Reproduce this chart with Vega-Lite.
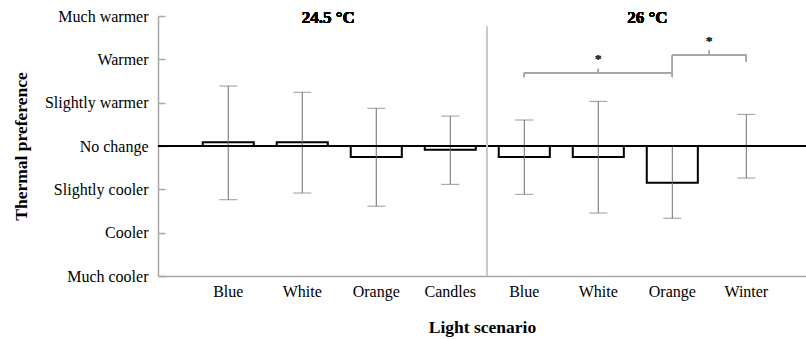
{
  "$schema": "https://vega.github.io/schema/vega-lite/v6.json",
  "width": 648,
  "height": 260,
  "autosize": {"type": "none"},
  "padding": {"left": 158, "top": 16, "right": 0, "bottom": 63},
  "config": {
    "font": "Liberation Serif",
    "view": {"stroke": null},
    "axis": {"grid": false}
  },
  "data": {
    "values": [
      {"key": "24.5|Blue", "mean": 0.085, "hi": 1.385, "lo": -1.24},
      {"key": "24.5|White", "mean": 0.085, "hi": 1.24, "lo": -1.085},
      {"key": "24.5|Orange", "mean": -0.254, "hi": 0.87, "lo": -1.39},
      {"key": "24.5|Candles", "mean": -0.085, "hi": 0.69, "lo": -0.885},
      {"key": "26|Blue", "mean": -0.254, "hi": 0.6, "lo": -1.115},
      {"key": "26|White", "mean": -0.254, "hi": 1.03, "lo": -1.547},
      {"key": "26|Orange", "mean": -0.846, "hi": 0.0, "lo": -1.67},
      {"key": "26|Winter", "mean": 0.0, "hi": 0.73, "lo": -0.74}
    ]
  },
  "layer": [
    {
      "mark": {"type": "bar", "fill": "white", "stroke": "black", "strokeWidth": 2},
      "encoding": {
        "x": {
          "field": "key",
          "type": "nominal",
          "sort": null,
          "scale": {"paddingInner": 0.31, "paddingOuter": 0.533, "align": 0.567},
          "axis": {
            "title": "Light scenario",
            "labelExpr": "split(datum.value, '|')[1]",
            "labelAngle": 0,
            "ticks": false,
            "domainColor": "#a6a6a6",
            "domainWidth": 1.5,
            "labelFontSize": 16,
            "labelColor": "black",
            "labelBaseline": "alphabetic",
            "labelPadding": 20,
            "titleFontSize": 17.5,
            "titleFontWeight": "bold",
            "titleColor": "black",
            "titleBaseline": "alphabetic",
            "titleY": 56
          }
        },
        "y": {
          "field": "mean",
          "type": "quantitative",
          "scale": {"domain": [-3, 3], "nice": false, "zero": false},
          "axis": {
            "title": "Thermal preference",
            "values": [-3, -2, -1, 0, 1, 2, 3],
            "labelExpr": "datum.value == 3 ? 'Much warmer' : datum.value == 2 ? 'Warmer' : datum.value == 1 ? 'Slightly warmer' : datum.value == 0 ? 'No change' : datum.value == -1 ? 'Slightly cooler' : datum.value == -2 ? 'Cooler' : 'Much cooler'",
            "tickSize": -7,
            "labelPadding": 17,
            "domainColor": "#a6a6a6",
            "domainWidth": 1.5,
            "tickColor": "#a6a6a6",
            "tickWidth": 1.5,
            "labelFontSize": 16,
            "labelColor": "black",
            "titleFontSize": 17.5,
            "titleFontWeight": "bold",
            "titleColor": "black",
            "titleAngle": -90,
            "titleBaseline": "alphabetic",
            "titleAlign": "center",
            "titleX": -132,
            "titleY": 130
          }
        },
        "y2": {"datum": 0}
      }
    },
    {
      "mark": {"type": "rule", "color": "#6e6e6e", "strokeWidth": 1},
      "encoding": {
        "x": {"field": "key", "type": "nominal", "sort": null},
        "y": {"field": "lo", "type": "quantitative"},
        "y2": {"field": "hi"}
      }
    },
    {
      "mark": {"type": "tick", "color": "#6e6e6e", "size": 18, "thickness": 1, "orient": "horizontal"},
      "encoding": {
        "x": {"field": "key", "type": "nominal", "sort": null},
        "y": {"field": "hi", "type": "quantitative"}
      }
    },
    {
      "mark": {"type": "tick", "color": "#6e6e6e", "size": 18, "thickness": 1, "orient": "horizontal"},
      "encoding": {
        "x": {"field": "key", "type": "nominal", "sort": null},
        "y": {"field": "lo", "type": "quantitative"}
      }
    },
    {
      "mark": {"type": "rule", "color": "black", "strokeWidth": 2},
      "encoding": {"y": {"datum": 0}}
    },
    {
      "mark": {"type": "rule", "color": "#c8c8c8", "strokeWidth": 1.2, "xOffset": 37},
      "encoding": {
        "x": {"datum": "24.5|Candles", "type": "nominal"},
        "y": {"datum": 2.75},
        "y2": {"datum": -3}
      }
    },
    {
      "mark": {"type": "text", "fontSize": 17, "fontWeight": "bold", "baseline": "alphabetic", "dy": 7, "dx": 26, "color": "black"},
      "encoding": {
        "x": {"datum": "24.5|White", "type": "nominal"},
        "y": {"datum": 3},
        "text": {"value": "24.5 °C"}
      }
    },
    {
      "mark": {"type": "text", "fontSize": 17, "fontWeight": "bold", "baseline": "alphabetic", "dy": 7, "dx": 49, "color": "black"},
      "encoding": {
        "x": {"datum": "26|White", "type": "nominal"},
        "y": {"datum": 3},
        "text": {"value": "26 °C"}
      }
    },
    {
      "mark": {"type": "rule", "color": "#a6a6a6", "strokeWidth": 1},
      "encoding": {
        "x": {"datum": "26|Blue", "type": "nominal"},
        "x2": {"datum": "26|Orange"},
        "y": {"datum": 1.69}
      }
    },
    {
      "mark": {"type": "rule", "color": "#a6a6a6", "strokeWidth": 1},
      "encoding": {
        "x": {"datum": "26|Blue", "type": "nominal"},
        "y": {"datum": 1.59},
        "y2": {"datum": 1.69}
      }
    },
    {
      "mark": {"type": "rule", "color": "#a6a6a6", "strokeWidth": 1},
      "encoding": {
        "x": {"datum": "26|Orange", "type": "nominal"},
        "y": {"datum": 1.59},
        "y2": {"datum": 2.10}
      }
    },
    {
      "mark": {"type": "rule", "color": "#a6a6a6", "strokeWidth": 1},
      "encoding": {
        "x": {"datum": "26|White", "type": "nominal"},
        "y": {"datum": 1.69},
        "y2": {"datum": 1.78}
      }
    },
    {
      "mark": {"type": "text", "fontSize": 13, "color": "#333333", "baseline": "middle", "dy": 2},
      "encoding": {
        "x": {"datum": "26|White", "type": "nominal"},
        "y": {"datum": 2.06},
        "text": {"value": "*"}
      }
    },
    {
      "mark": {"type": "rule", "color": "#a6a6a6", "strokeWidth": 1},
      "encoding": {
        "x": {"datum": "26|Orange", "type": "nominal"},
        "x2": {"datum": "26|Winter"},
        "y": {"datum": 2.10}
      }
    },
    {
      "mark": {"type": "rule", "color": "#a6a6a6", "strokeWidth": 1},
      "encoding": {
        "x": {"datum": "26|Winter", "type": "nominal"},
        "y": {"datum": 1.95},
        "y2": {"datum": 2.10}
      }
    },
    {
      "mark": {"type": "rule", "color": "#a6a6a6", "strokeWidth": 1, "xOffset": 37},
      "encoding": {
        "x": {"datum": "26|Orange", "type": "nominal"},
        "y": {"datum": 2.10},
        "y2": {"datum": 2.20}
      }
    },
    {
      "mark": {"type": "text", "fontSize": 13, "color": "#333333", "baseline": "middle", "dy": 2, "dx": 37},
      "encoding": {
        "x": {"datum": "26|Orange", "type": "nominal"},
        "y": {"datum": 2.47},
        "text": {"value": "*"}
      }
    }
  ]
}
